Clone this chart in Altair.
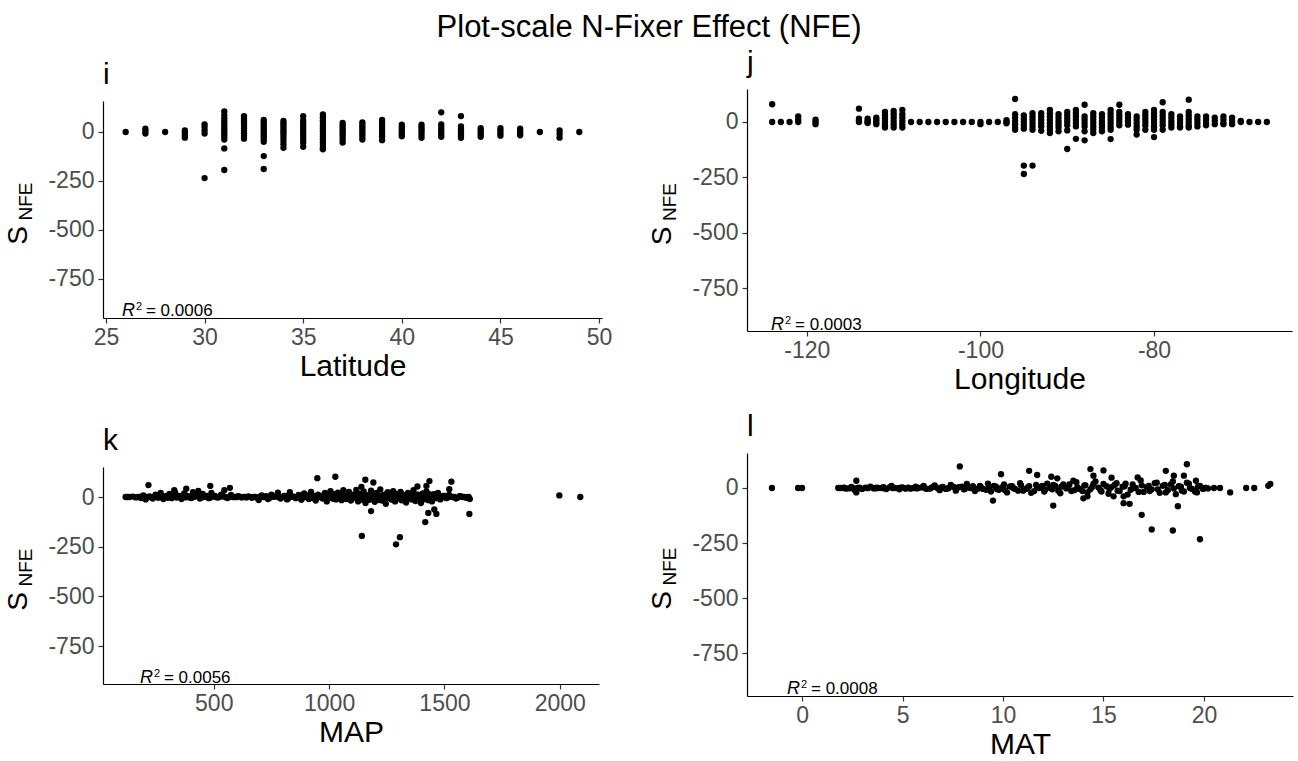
import altair as alt
import pandas as pd

FONT = "Liberation Sans"
MAIN_TITLE = "Plot-scale N-Fixer Effect (NFE)"

# ---------- panel i : Latitude ----------
lat_levels = [26, 27, 28, 29, 30, 31, 32, 33, 34, 35, 36, 37, 38, 39, 40, 41, 42, 43, 44, 45, 46, 47, 48, 49]
lat_snfe = [
    [0],
    [17, 5, -8],
    [0],
    [8, -5, -18, -29],
    [39, 25, 8, -8, -235],
    [105, 85, 68, 52, 38, 25, 12, 0, -12, -25, -39, -84, -194],
    [81, 68, 55, 42, 30, 18, 6, -6, -20, -34],
    [62, 50, 38, 26, 14, 2, -10, -22, -36, -50, -123, -189],
    [56, 44, 32, 20, 8, -4, -16, -30, -45, -62, -81],
    [81, 60, 46, 32, 18, 4, -10, -24, -38, -55, -76],
    [90, 75, 60, 46, 32, 18, 4, -10, -24, -38, -52, -66, -80, -88],
    [46, 34, 22, 10, -2, -14, -26, -40, -54],
    [49, 36, 24, 12, 0, -12, -26, -39],
    [62, 48, 34, 20, 6, -8, -22, -42],
    [37, 24, 12, 0, -12, -22],
    [37, 24, 12, 0, -14, -30],
    [100, 39, 26, 12, 0, -12, -25],
    [81, 29, 16, 4, -8, -20, -30],
    [20, 8, -4, -16, -25],
    [20, 8, -6, -19],
    [17, 5, -7, -17],
    [0],
    [8, -10, -29],
    [0],
]

# ---------- panel j : Longitude ----------
lon_levels = [-124, -123, -122, -121, -119, -114, -113, -112, -111, -110, -109,
              -108, -107, -106, -105, -104, -103, -102, -101, -100, -99, -98, -97,
              -96, -95, -94, -93, -92, -91, -90, -89, -88, -87, -86, -85, -84, -83,
              -82, -81, -80, -79, -78, -77, -76, -75, -74, -73, -72, -71, -70, -69, -68, -67]
lon_snfe = [
    [80, 0], [0], [0], [25, 10, 0], [10, 0, -10],
    [60, 15, 5, 0], [15, 5, 0, -5], [20, 10, 0, -10],
    [45, 30, 15, 0, -15, -25], [50, 35, 20, 5, -10, -25], [55, 35, 20, 5, -10, -25],
    [0], [0], [0], [0], [0], [0], [0], [0], [-10, 0], [0], [0], [8, 0, -6],
    [104, 35, 20, 5, -10, -25, -35],
    [30, 15, 0, -15, -30, -197, -235],
    [40, 25, 10, -5, -20, -35, -197],
    [40, 25, 10, -5, -20, -40],
    [55, 40, 25, 10, -5, -20, -35, -50],
    [35, 20, 5, -10, -25, -42],
    [45, 30, 15, 0, -15, -38, -122],
    [55, 40, 25, 10, -5, -20, -76],
    [78, 25, 10, -5, -20, -42, -83],
    [40, 25, 10, -5, -20, -35, -50],
    [35, 20, 5, -10, -25, -42],
    [55, 40, 25, 10, -5, -20, -35, -77],
    [78, 45, 30, 15, 0, -15],
    [35, 20, 5, -12],
    [25, 10, -5, -20, -35, -57],
    [45, 30, 15, 0, -15, -35],
    [55, 40, 25, 10, -5, -20, -35, -68],
    [89, 45, 30, 15, 0, -15, -35],
    [35, 20, 5, -10, -25],
    [25, 10, -5, -20, -25],
    [101, 45, 30, 15, 0, -15, -25],
    [25, 10, -5, -20],
    [25, 10, -5, -15],
    [20, 5, -10],
    [25, 10, -5, -10],
    [20, 5, -10],
    [5, 0], [0], [0], [0],
]

# ---------- panel k : MAP ----------
map_band_x = [118, 135, 172, 185, 195, 205, 222, 236, 248, 258,
              270, 282, 295, 308, 318, 333, 345, 360, 372, 385,
              398, 410, 425, 440, 452, 465, 478, 490, 505, 518,
              532, 548, 560, 575, 590, 605, 620, 635, 650, 665,
              680, 695, 708, 722, 735, 750, 765, 778, 790, 805,
              818, 830, 842, 855, 868, 880, 892, 902, 912, 922,
              932, 942, 952, 962, 972, 982, 990, 998, 1006, 1014,
              1022, 1030, 1038, 1046, 1054, 1062, 1070, 1078, 1086, 1094,
              1102, 1110, 1118, 1126, 1134, 1142, 1150, 1158, 1166, 1174,
              1182, 1190, 1198, 1206, 1214, 1222, 1230, 1238, 1246, 1254,
              1262, 1270, 1278, 1286, 1294, 1302, 1310, 1318, 1326, 1334,
              1342, 1350, 1358, 1366, 1374, 1382, 1390, 1398, 1406, 1414,
              1422, 1430, 1438, 1446, 1454, 1462, 1472, 1482, 1495, 1508,
              1520, 1535, 1550, 1565, 1580, 1595, 1605, 1610]
map_band_y = [0, 0, 0, -5, 8, -12, 3, -8, 12, -3,
              20, -10, 5, 15, -6, 22, 2, -10, 18, 5,
              -4, 25, 8, -8, 15, 3, -6, 20, 6, -3,
              12, 2, -5, 10, 0, 4, -2, 0, 3, -4,
              0, -15, 8, 0, -10, 12, 2, 22, -8, 5,
              -12, 25, 3, -6, 10, -14, 18, 4, -10, 26,
              6, -18, 12, 0, -8, 20, -22, 8, 30, -4,
              14, -12, 22, 2, -16, 34, 6, -8, 26, -18,
              12, -2, 36, -22, 16, -6, 28, -30, 8, -14,
              32, 2, -24, 20, -8, 38, -18, 10, -34, 24,
              0, -12, 30, -22, 14, -6, 26, -16, 6, -28,
              20, 0, -12, 34, -20, 10, -2, -30, 18, -8,
              28, -16, 4, -22, 14, -4, 20, -12, 6, -6,
              10, 0, -8, 4, 0, -4, 0, -10]
map_line_x = [126, 150, 162, 178, 190, 200, 214, 229, 242, 253,
              264, 276, 289, 301, 313, 326, 339, 352, 366, 379,
              392, 404, 417, 432, 446, 458, 471, 484, 497, 511,
              525, 540, 554, 567, 582, 597, 612, 627, 642, 657,
              672, 687, 701, 715, 728, 742, 757, 771, 784, 797,
              811, 824, 836, 848, 861, 874, 886, 897, 907, 917,
              927, 937, 947, 957, 967, 977, 986, 994, 1002, 1010,
              1018, 1026, 1034, 1042, 1050, 1058, 1066, 1074, 1082, 1090,
              1098, 1106, 1114, 1122, 1130, 1138, 1146, 1154, 1162, 1170,
              1178, 1186, 1194, 1202, 1210, 1218, 1226, 1234, 1242, 1250,
              1258, 1266, 1274, 1282, 1290, 1298, 1306, 1314, 1322, 1330,
              1338, 1346, 1354, 1362, 1370, 1378, 1386, 1394, 1402, 1410,
              1418, 1426, 1434, 1442, 1450, 1458, 1467, 1477, 1488, 1501,
              1514, 1527, 1542, 1557, 1572, 1587, 1600]
map_line_y = [0, 2, -2, 0, 3, -1, 1, -3, 2, 0,
              -2, 4, 0, -4, 2, 1, -3, 5, 0, -2,
              3, -5, 1, 4, -2, 0, 6, -4, 2, -1,
              0, 3, -2, 1, 0, -1, 2, 0, -2, 1,
              0, -3, 2, 0, 4, -5, 1, 3, -2, 0,
              5, -6, 2, 0, -3, 7, -4, 1, 8, -6,
              3, -8, 0, 6, -2, 9, -7, 2, -4, 10,
              -9, 4, 0, -6, 11, -3, 6, -10, 2, 8,
              -12, 5, -1, 12, -8, 3, -14, 9, 0, -6,
              14, -10, 4, -2, 12, -15, 7, 0, -9, 16,
              -4, 10, -12, 2, 15, -8, 5, -16, 11, 0,
              -10, 16, -3, 8, -14, 4, 12, -6, 0, -12,
              9, -4, 14, -8, 2, 10, -6, 4, -2, 6,
              -3, 2, 0, -4, 3, 0, -2]
map_out_x = [217, 329, 381, 433, 485, 546, 570, 949, 1027, 1140, 1157, 1192, 1142, 1182,
             1290, 1307, 1383, 1422, 1435, 1417, 1430, 1456, 1465, 1521, 1530, 1608, 1998, 2089]
map_out_y = [60, 34, 42, 31, 56, 34, 46, 95, 102, 51, 87, 73, -196, -71,
             -238, -202, 53, 56, 80, -126, -80, -63, -85, 39, 77, -85, 8, 0]

# ---------- panel l : MAT ----------
mat_band_x = [1.8, 2.05, 2.2, 2.45, 2.6, 2.85, 3.0, 3.25, 3.4, 3.65,
              3.8, 4.05, 4.2, 4.45, 4.6, 4.85, 5.0, 5.25, 5.4, 5.65,
              5.8, 6.05, 6.2, 6.45, 6.6, 6.85, 7.0, 7.25, 7.4, 7.65,
              7.8, 8.05, 8.2, 8.45, 8.6, 8.85, 9.0, 9.25, 9.4, 9.65,
              9.8, 10.05, 10.2, 10.45, 10.6, 10.85, 11.0, 11.25, 11.4, 11.65,
              11.8, 12.05, 12.2, 12.45, 12.6, 12.85, 13.0, 13.25, 13.4, 13.65,
              13.8, 14.05, 14.2, 14.45, 14.6, 14.85, 15.0, 15.25, 15.4, 15.65,
              15.8, 16.05, 16.2, 16.45, 16.6, 16.85, 17.0, 17.25, 17.4, 17.65,
              17.8, 18.05, 18.2, 18.45, 18.6, 18.85, 19.0, 19.25, 19.4, 19.65,
              19.8, 20.05, 20.2]
mat_band_y = [0, 0, -3, 5, -8, 2, -4, 0, 6, -2,
              0, 4, -5, 10, 0, -6, 3, 0, -3, 6,
              0, 10, -4, 2, 12, -10, 5, -2, 14, -12,
              4, -6, 18, 0, -14, 10, -4, 20, -16, 6,
              -8, 16, -20, 8, -4, 22, -12, 4, -22, 14,
              0, -16, 20, -6, 10, -24, 16, 2, -14, 26,
              -4, 12, -20, 6, 30, -10, 18, -26, 4, 22,
              -14, 8, -30, 16, 0, 34, -18, 10, -6, 24,
              -22, 14, -10, 30, -28, 6, -16, 20, -4, -20,
              10, 0, -2]
mat_line_x = [1.9, 2.1, 2.35, 2.5, 2.75, 2.9, 3.15, 3.3, 3.55, 3.7,
              3.95, 4.1, 4.35, 4.5, 4.75, 4.9, 5.15, 5.3, 5.55, 5.7,
              5.95, 6.1, 6.35, 6.5, 6.75, 6.9, 7.15, 7.3, 7.55, 7.7,
              7.95, 8.1, 8.35, 8.5, 8.75, 8.9, 9.15, 9.3, 9.55, 9.7,
              9.95, 10.1, 10.35, 10.5, 10.75, 10.9, 11.15, 11.3, 11.55, 11.7,
              11.95, 12.1, 12.35, 12.5, 12.75, 12.9, 13.15, 13.3, 13.55, 13.7,
              13.95, 14.1, 14.35, 14.5, 14.75, 14.9, 15.15, 15.3, 15.55, 15.7,
              15.95, 16.1, 16.35, 16.5, 16.75, 16.9, 17.15, 17.3, 17.55, 17.7,
              17.95, 18.1, 18.35, 18.5, 18.75, 18.9, 19.15, 19.3, 19.55, 19.7,
              19.95, 20.1]
mat_line_y = [0, 1, -1, 2, 0, -2, 1, 0, -1, 2,
              0, -2, 3, 0, -1, 2, -3, 1, 0, -2,
              3, 0, -3, 4, -1, 2, -4, 0, 5, -2,
              6, -5, 0, 8, -3, 4, -8, 2, 10, -6,
              3, -10, 7, 0, -12, 12, -4, 8, -14, 5,
              10, -8, 0, 14, -12, 6, -2, 16, -10, 4,
              -14, 12, -6, 18, 2, -16, 8, -4, 14, -12,
              6, 20, -8, 0, -18, 12, 4, -14, 22, -6,
              10, -20, 16, -2, 8, -12, 24, 0, -16, 6,
              -4, 0]
mat_out_x = [-1.5, -0.2, 0.0, 2.7, 2.7, 7.85, 9.9, 9.5, 11.3, 11.7, 12.5, 12.4, 12.7, 13.5,
             14.35, 14.5, 15.0, 14.0, 14.2, 15.4, 15.5, 16.0, 16.3, 16.0, 16.7, 16.9, 17.4,
             18.45, 18.7, 18.1, 18.5, 19.15, 19.0, 19.8, 19.6, 21.3, 20.5, 20.8, 22.1, 22.5,
             23.2, 23.3]
mat_out_y = [0, 0, 0, 33, -20, 98, 63, -57, 78, 59, -80, 51, 44, 33,
             86, 56, 80, -47, -38, 47, -38, -69, -72, -38, 48, -122, -188,
             -193, -83, 78, 56, 108, 56, -233, 33, -20, 0, 0, 0, 0,
             10, 18]

# ---------- annotations / labels ----------
panel_tags = ["i", "j", "k", "l"]
x_titles = ["Latitude", "Longitude", "MAP", "MAT"]
r2_labels = ["= 0.0006", "= 0.0003", "= 0.0056", "= 0.0008"]
r2_x = [25.81, -124.13, 180, -0.75]
y_ticks = [0, -250, -500, -750]


def stacks_df(levels, stacks):
    rows = [(lv, v) for lv, st in zip(levels, stacks) for v in st]
    return pd.DataFrame(rows, columns=["x", "y"])


def pairs_df(*pairs):
    xs, ys = [], []
    for px, py in pairs:
        xs += list(px)
        ys += list(py)
    return pd.DataFrame({"x": xs, "y": ys})


def panel(df, xdom, xticks, xtitle, ydom, yrng, w, h, axoff, tag, tagdy, r2x, r2lab):
    xs = alt.Scale(domain=xdom, nice=False, zero=False)
    ys = alt.Scale(domain=ydom, nice=False, zero=False, range=yrng)
    xaxis = alt.Axis(values=xticks, title=xtitle, offset=axoff,
                     labelExpr="toString(datum.value)", labelFlush=False,
                     titleY=57, titleBaseline="alphabetic")
    yaxis = alt.Axis(values=y_ticks, title=None, labelExpr="toString(datum.value)")
    enc_x = alt.X("x:Q", scale=xs, axis=xaxis)
    enc_y = alt.Y("y:Q", scale=ys, axis=yaxis)
    pts = alt.Chart(df).mark_circle(size=40, color="black", opacity=1).encode(x=enc_x, y=enc_y)
    ann = pd.DataFrame({"x": [r2x], "y": [-938], "t": [r2lab]})
    base_ann = alt.Chart(ann).encode(x=enc_x, y=enc_y)
    r = base_ann.mark_text(text="R", fontStyle="italic", fontSize=18, align="left",
                           baseline="alphabetic", font=FONT, color="black")
    two = base_ann.mark_text(text="2", fontSize=11, align="left", baseline="alphabetic",
                             dx=14, dy=-6, font=FONT, color="black")
    rest = base_ann.mark_text(fontSize=17, align="left", baseline="alphabetic", dx=24,
                              font=FONT, color="black").encode(text="t:N")
    center = (yrng[0] + yrng[1]) / 2
    st = pd.DataFrame({"t": ["S"]})
    s_mark = alt.Chart(st).mark_text(text="S", angle=270, fontSize=28, align="center",
                                     baseline="alphabetic", font=FONT, color="black").encode(
        x=alt.value(-76), y=alt.value(center + 26))
    nfe_mark = alt.Chart(st).mark_text(text="NFE", angle=270, fontSize=19, align="center",
                                       baseline="alphabetic", font=FONT, color="black").encode(
        x=alt.value(-71), y=alt.value(center - 8))
    return alt.layer(pts, r, two, rest, s_mark, nfe_mark).properties(
        width=w, height=h,
        title=alt.TitleParams(tag, anchor="start", frame="group", fontSize=30,
                              fontWeight="normal", font=FONT, color="black",
                              baseline="alphabetic", offset=16, dy=tagdy),
    )


p_i = panel(stacks_df(lat_levels, lat_snfe), [24.85, 50.15], [25, 30, 35, 40, 45, 50],
            x_titles[0], [-949, 158], [229, 12], 499, 242, -13, panel_tags[0], 41,
            r2_x[0], r2_labels[0])
p_j = panel(stacks_df(lon_levels, lon_snfe), [-126.9, -64.1], [-120, -100, -80],
            x_titles[1], [-944, 149], [242, 0], 545, 242, 0, panel_tags[1], 29,
            r2_x[1], r2_labels[1])
p_k = panel(pairs_df((map_band_x, map_band_y), (map_line_x, map_line_y), (map_out_x, map_out_y)),
            [20, 2170], [500, 1000, 1500, 2000], x_titles[2], [-941, 151], [231, 14], 496, 243,
            -12, panel_tags[2], 43, r2_x[2], r2_labels[2])
p_l = panel(pairs_df((mat_band_x, mat_band_y), (mat_line_x, mat_line_y), (mat_out_x, mat_out_y)),
            [-2.74, 24.43], [0, 5, 10, 15, 20], x_titles[3], [-945, 159], [243, 0], 546, 243, 0,
            panel_tags[3], 29, r2_x[3], r2_labels[3])

chart = alt.concat(
    p_i, p_j, p_k, p_l, columns=2,
    spacing={"row": 122, "column": 145},
    bounds="flush",
    title=alt.TitleParams(MAIN_TITLE, anchor="middle", frame="bounds", fontSize=31,
                          fontWeight="normal", font=FONT, color="black",
                          baseline="alphabetic", offset=-20),
    padding={"left": 5, "top": 12, "right": 5, "bottom": 5},
).configure_view(stroke=None).configure_axis(
    domainColor="black", domainWidth=1.2, tickColor="#333333", tickWidth=1.2, tickSize=5,
    labelFont=FONT, labelFontSize=23, labelColor="#4D4D4D",
    titleFont=FONT, titleFontSize=30, titleFontWeight="normal", titleColor="black",
    grid=False, labelOverlap=False,
).configure_axisX(labelPadding=3).configure_axisY(labelPadding=4)

chart.save("out.html", embed_options={"renderer": "svg", "actions": False})
